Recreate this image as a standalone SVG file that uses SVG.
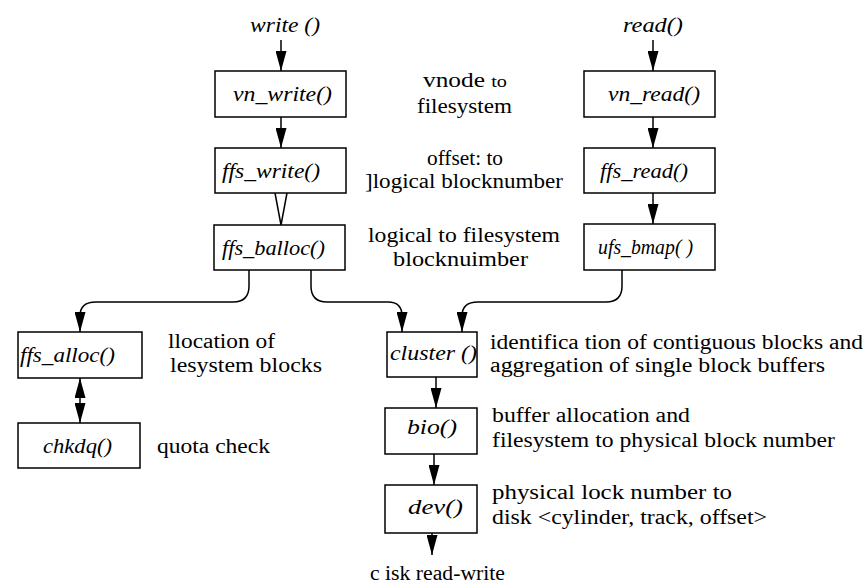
<svg xmlns="http://www.w3.org/2000/svg" width="867" height="585" viewBox="0 0 867 585">
<style>
.box{fill:#fff;stroke:#000;stroke-width:1.5}
text{font-family:'Liberation Serif','Times New Roman',serif;fill:#000}
.fn{font-style:italic;font-size:20px}
.lb{font-size:20px}
.c{fill:none;stroke:#000;stroke-width:1.5}
</style>
<defs>
<marker id="ah" markerUnits="userSpaceOnUse" markerWidth="20" markerHeight="11" refX="20" refY="5.5" orient="auto-start-reverse" viewBox="0 0 20 11">
<path d="M0,0 L20,5.5 L0,11 z" fill="#000"/>
</marker>
</defs>
<g id="connectors">
<path class="c" d="M281,40 L281,71" marker-end="url(#ah)"/>
<path class="c" d="M281,117 L281,148" marker-end="url(#ah)"/>
<polyline class="c" points="275,193 281,225 287,193" stroke-width="1.3"/>
<path class="c" d="M653,40 L653,71" marker-end="url(#ah)"/>
<path class="c" d="M653,117 L653,148" marker-end="url(#ah)"/>
<path class="c" d="M653,193 L653,224" marker-end="url(#ah)"/>
<path class="c" d="M249,270 L249,286 Q249,302 233,302 L96,302 Q80,302 80,316 L80,332" marker-end="url(#ah)"/>
<path class="c" d="M311,270 L311,286 Q311,302 327,302 L388,302 Q402,302 402,316 L402,332" marker-end="url(#ah)"/>
<path class="c" d="M622,270 L622,286 Q622,302 606,302 L478,302 Q462,302 462,316 L462,332" marker-end="url(#ah)"/>
<path class="c" d="M80,378 L80,423" marker-start="url(#ah)" marker-end="url(#ah)"/>
<path class="c" d="M436,377 L436,408" marker-end="url(#ah)"/>
<path class="c" d="M434,454 L434,485" marker-end="url(#ah)"/>
<path class="c" d="M432,533 L432,555" marker-end="url(#ah)"/>
</g>
<g id="write">
<text class="fn" x="250" y="32" textLength="70" lengthAdjust="spacingAndGlyphs">write ()</text>
</g>
<g id="read">
<text class="fn" x="623" y="32" textLength="60" lengthAdjust="spacingAndGlyphs">read()</text>
</g>
<g id="vn_write">
<rect class="box" x="215" y="71" width="131" height="46"/>
<text class="fn" x="233" y="101" textLength="99" lengthAdjust="spacingAndGlyphs">vn_write()</text>
</g>
<g id="ffs_write">
<rect class="box" x="215" y="148" width="131" height="45"/>
<text class="fn" x="222" y="178" textLength="98" lengthAdjust="spacingAndGlyphs">ffs_write()</text>
</g>
<g id="ffs_balloc">
<rect class="box" x="214" y="225" width="131" height="45"/>
<text class="fn" x="222" y="255" textLength="103" lengthAdjust="spacingAndGlyphs">ffs_balloc()</text>
</g>
<g id="vn_read">
<rect class="box" x="584" y="71" width="131" height="46"/>
<text class="fn" x="608" y="101" textLength="92" lengthAdjust="spacingAndGlyphs">vn_read()</text>
</g>
<g id="ffs_read">
<rect class="box" x="584" y="148" width="131" height="45"/>
<text class="fn" x="600" y="178" textLength="88" lengthAdjust="spacingAndGlyphs">ffs_read()</text>
</g>
<g id="ufs_bmap">
<rect class="box" x="584" y="224" width="131" height="46"/>
<text class="fn" x="598" y="254" textLength="95" lengthAdjust="spacingAndGlyphs">ufs_bmap( )</text>
</g>
<g id="ffs_alloc">
<rect class="box" x="18" y="332" width="124" height="46"/>
<text class="fn" x="20" y="362" textLength="95" lengthAdjust="spacingAndGlyphs">ffs_alloc()</text>
</g>
<g id="chkdq">
<rect class="box" x="18" y="423" width="122" height="45"/>
<text class="fn" x="43" y="453" textLength="69" lengthAdjust="spacingAndGlyphs">chkdq()</text>
</g>
<g id="cluster">
<rect class="box" x="387" y="332" width="90" height="45"/>
<text class="fn" x="390" y="360" textLength="87" lengthAdjust="spacingAndGlyphs">cluster ()</text>
</g>
<g id="bio">
<rect class="box" x="385" y="408" width="92" height="46"/>
<text class="fn" x="407" y="434" textLength="50" lengthAdjust="spacingAndGlyphs">bio()</text>
</g>
<g id="dev">
<rect class="box" x="385" y="485" width="92" height="48"/>
<text class="fn" x="408" y="514" textLength="55" lengthAdjust="spacingAndGlyphs">dev()</text>
</g>
<g id="labels">
<text class="lb" x="423" y="87" textLength="84" lengthAdjust="spacingAndGlyphs">vnode <tspan font-size="16">to</tspan></text>
<text class="lb" x="417" y="113" textLength="95" lengthAdjust="spacingAndGlyphs">filesystem</text>
<text class="lb" x="427" y="165" textLength="76" lengthAdjust="spacingAndGlyphs">offset: to</text>
<text class="lb" x="365" y="188" textLength="198" lengthAdjust="spacingAndGlyphs">]logical blocknumber</text>
<text class="lb" x="368" y="242" textLength="192" lengthAdjust="spacingAndGlyphs">logical to filesystem</text>
<text class="lb" x="393" y="266" textLength="135" lengthAdjust="spacingAndGlyphs">blocknuimber</text>
<text class="lb" x="168" y="348" textLength="107" lengthAdjust="spacingAndGlyphs">llocation of</text>
<text class="lb" x="170" y="372" textLength="152" lengthAdjust="spacingAndGlyphs">lesystem blocks</text>
<text class="lb" x="157" y="453" textLength="113" lengthAdjust="spacingAndGlyphs">quota check</text>
<text class="lb" x="490" y="349" textLength="373" lengthAdjust="spacingAndGlyphs">identifica tion of contiguous blocks and</text>
<text class="lb" x="490" y="372" textLength="335" lengthAdjust="spacingAndGlyphs">aggregation of single block buffers</text>
<text class="lb" x="492" y="422" textLength="198" lengthAdjust="spacingAndGlyphs">buffer allocation and</text>
<text class="lb" x="492" y="447" textLength="343" lengthAdjust="spacingAndGlyphs">filesystem  to physical block number</text>
<text class="lb" x="492" y="499" textLength="240" lengthAdjust="spacingAndGlyphs">physical  lock number to</text>
<text class="lb" x="492" y="524" textLength="275" lengthAdjust="spacingAndGlyphs">disk &lt;cylinder, track, offset&gt;</text>
<text class="lb" x="370" y="580" textLength="135" lengthAdjust="spacingAndGlyphs">c isk read-write</text>
</g>
</svg>
